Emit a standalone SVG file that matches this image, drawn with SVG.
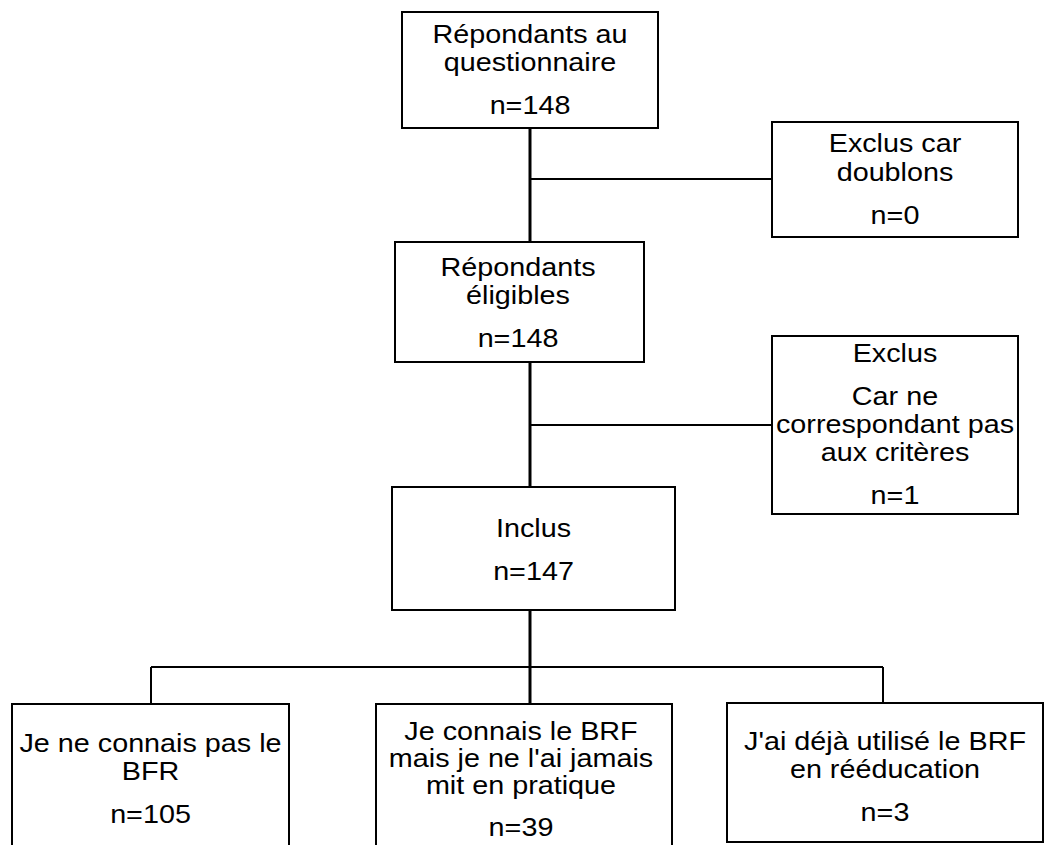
<svg xmlns="http://www.w3.org/2000/svg" width="1054" height="845" viewBox="0 0 1054 845">
<style>
.box{fill:#fff;stroke:#000;stroke-width:2}
.t{font-family:"Liberation Sans",Arial,sans-serif;font-size:25px;fill:#000;text-anchor:middle}
.c{stroke:#000;fill:none}
.thick{stroke-width:3}
.thin{stroke-width:2}
</style>
<rect width="1054" height="845" fill="#fff"/>
<g id="connectors">
<line class="c thick" x1="530" y1="128" x2="530" y2="242"/>
<line class="c thin" x1="530" y1="179" x2="772" y2="179"/>
<line class="c thick" x1="530" y1="362" x2="530" y2="487"/>
<line class="c thin" x1="530" y1="425" x2="772" y2="425"/>
<line class="c thick" x1="530" y1="610" x2="530" y2="704"/>
<line class="c thin" x1="151" y1="667" x2="883" y2="667"/>
<line class="c thin" x1="151" y1="667" x2="151" y2="704"/>
<line class="c thin" x1="883" y1="667" x2="883" y2="703"/>
</g>
<g id="n1">
<rect class="box" x="402" y="12" width="256" height="116"/>
<g transform="translate(530 0) scale(1.15 1)"><text class="t"><tspan x="0" y="43">Répondants au</tspan><tspan x="0" y="71">questionnaire</tspan><tspan x="0" y="114">n=148</tspan></text></g>
</g>
<g id="n2">
<rect class="box" x="772" y="122" width="246" height="115"/>
<g transform="translate(895 0) scale(1.15 1)"><text class="t"><tspan x="0" y="152">Exclus car</tspan><tspan x="0" y="181">doublons</tspan><tspan x="0" y="224">n=0</tspan></text></g>
</g>
<g id="n3">
<rect class="box" x="395" y="242" width="249" height="120"/>
<g transform="translate(518 0) scale(1.15 1)"><text class="t"><tspan x="0" y="276">Répondants</tspan><tspan x="0" y="304">éligibles</tspan><tspan x="0" y="347">n=148</tspan></text></g>
</g>
<g id="n4">
<rect class="box" x="772" y="336" width="246" height="178"/>
<g transform="translate(895 0) scale(1.15 1)"><text class="t"><tspan x="0" y="362">Exclus</tspan><tspan x="0" y="405">Car ne</tspan><tspan x="0" y="433">correspondant pas</tspan><tspan x="0" y="461">aux critères</tspan><tspan x="0" y="504">n=1</tspan></text></g>
</g>
<g id="n5">
<rect class="box" x="392" y="487" width="283" height="123"/>
<g transform="translate(533.5 0) scale(1.15 1)"><text class="t"><tspan x="0" y="537">Inclus</tspan><tspan x="0" y="580">n=147</tspan></text></g>
</g>
<g id="n6">
<rect class="box" x="12" y="704" width="277" height="150"/>
<g transform="translate(150.5 0) scale(1.15 1)"><text class="t"><tspan x="0" y="752">Je ne connais pas le</tspan><tspan x="0" y="780">BFR</tspan><tspan x="0" y="823">n=105</tspan></text></g>
</g>
<g id="n7">
<rect class="box" x="376" y="704" width="296" height="150"/>
<g transform="translate(521 0) scale(1.15 1)"><text class="t"><tspan x="0" y="740">Je connais le BRF</tspan><tspan x="0" y="767">mais je ne l'ai jamais</tspan><tspan x="0" y="794">mit en pratique</tspan><tspan x="0" y="836">n=39</tspan></text></g>
</g>
<g id="n8">
<rect class="box" x="727" y="703" width="316" height="139"/>
<g transform="translate(885 0) scale(1.15 1)"><text class="t"><tspan x="0" y="750">J'ai déjà utilisé le BRF</tspan><tspan x="0" y="778">en rééducation</tspan><tspan x="0" y="821">n=3</tspan></text></g>
</g>
</svg>
